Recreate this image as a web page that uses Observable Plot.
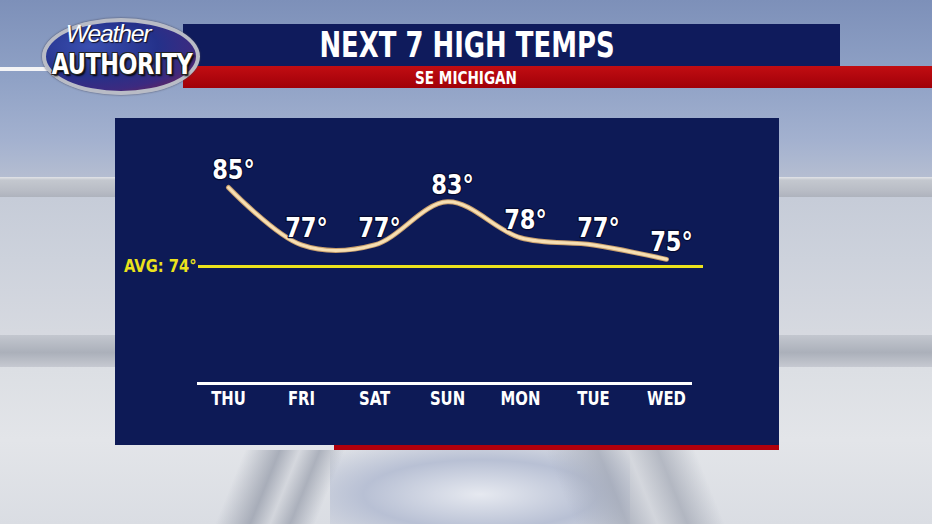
<!DOCTYPE html>
<html><head><meta charset="utf-8">
<script src="https://cdn.jsdelivr.net/npm/d3@7"></script>
<script src="https://cdn.jsdelivr.net/npm/@observablehq/plot@0.6"></script>
<style>
html,body{margin:0;padding:0;width:932px;height:524px;overflow:hidden}
body{position:relative;font-family:"DejaVu Sans Condensed","DejaVu Sans",sans-serif;font-stretch:condensed;font-weight:bold;
background:linear-gradient(180deg,#7d90b9 0px,#90a2c6 80px,#a3b1cf 140px,#b4bdd1 176px,#c6ccd8 198px,#cdd2dc 260px,#d6d9e0 332px,#dcdfe4 370px,#e3e5e9 440px,#dadde3 524px);}
.abs{position:absolute}
#band1{left:0;top:177px;width:932px;height:20px;background:linear-gradient(180deg,#e2e4e8 0px,#c4c8cf 3px,#b8bcc5 14px,#aeb3bd 20px)}
#band2{left:0;top:335px;width:932px;height:32px;background:linear-gradient(180deg,#c3c7cf 0px,#abb0ba 55%,#c6c9d1 100%)}
#bottomglow{left:330px;top:450px;width:300px;height:74px;background:radial-gradient(ellipse at 50% 60%,#e6e9f0 0%,#b8c0d4 55%,rgba(160,170,195,0.0) 100%)}
#titlebar{left:183px;top:24px;width:657px;height:42px;background:#0f1b5c}
#redbar{left:183px;top:66px;width:749px;height:22px;background:linear-gradient(180deg,#c10d12,#a00008)}
#leftline{left:0;top:67px;width:50px;height:4px;background:#f4f4f6}
#title{left:183px;width:560px;top:25px;text-align:center;color:#fff;font-size:36px;line-height:40px;margin-left:4px;transform:scaleX(0.8);transform-origin:50% 50%}
#sub{left:183px;width:560px;top:68px;text-align:center;color:#fff;font-size:18px;line-height:19px;margin-left:3px;transform:scaleX(0.84);transform-origin:50% 50%}
#logo{left:42px;top:18px;width:158px;height:77px;border-radius:50%;box-sizing:border-box;border:4px solid #b9bcc6;
background:radial-gradient(ellipse at 30% 35%,#3a4fb0 0%,#24318a 45%,#3c2a80 70%,#8a1e3c 100%);box-shadow:0 0 2px #445}
#w1{left:53px;top:20px;width:110px;text-align:center;color:#fff;font-style:italic;font-weight:normal;font-family:"Liberation Sans","Arial",sans-serif;font-size:24px;line-height:normal;letter-spacing:-1.2px;text-shadow:1px 1px 1px #112;transform:scaleX(1.03);transform-origin:50% 50%}
#w2{left:40px;top:47px;width:162px;text-align:center;color:#fff;font-size:29px;line-height:normal;letter-spacing:-0.5px;text-shadow:-1px -1px 0 #222,1px 1px 0 #222,1px -1px 0 #222,-1px 1px 0 #222,2px 2px 2px #000;transform:scaleX(0.855);transform-origin:50% 50%}
#panel{left:115px;top:118px;width:664px;height:327px;background:#0d1a56}
#panelred{left:334px;top:445px;width:445px;height:5px;background:#b0000c}
.post{height:74px;top:450px}
</style></head>
<body>
<div class="abs" id="band1"></div>
<div class="abs" id="band2"></div>
<div class="abs" id="bottomglow"></div>
<div class="abs post" style="left:230px;width:100px;transform:skewX(-22deg);background:linear-gradient(90deg,rgba(150,156,170,0),rgba(150,156,170,0.75) 35%,rgba(205,208,215,0.6) 55%,rgba(150,156,170,0.7) 75%,rgba(150,156,170,0))"></div>
<div class="abs post" style="left:560px;width:150px;transform:skewX(22deg);background:linear-gradient(90deg,rgba(150,156,170,0),rgba(160,166,180,0.7) 35%,rgba(205,208,215,0.6) 55%,rgba(150,156,170,0.6) 75%,rgba(150,156,170,0))"></div>
<div class="abs" id="titlebar"></div>
<div class="abs" id="redbar"></div>
<div class="abs" id="leftline"></div>
<div class="abs" id="title">NEXT 7 HIGH TEMPS</div>
<div class="abs" id="sub">SE MICHIGAN</div>
<div class="abs" id="logo"></div>
<div class="abs" id="w1">Weather</div>
<div class="abs" id="w2">AUTHORITY</div>
<div class="abs" id="panelred"></div>
<div class="abs" id="panel"></div>
<script>
const days = ["THU","FRI","SAT","SUN","MON","TUE","WED"];
const temps = [85, 77, 77, 83, 78, 77, 75];
const avgTemp = 74;
const data = days.map((day, i) => ({day, temp: temps[i]}));

const chart = Plot.plot({
  width: 664, height: 327,
  marginLeft: 83, marginRight: 89, marginTop: 0, marginBottom: 62,
  style: {background: "transparent", color: "white", fontFamily: '"DejaVu Sans Condensed","DejaVu Sans",sans-serif', fontStretch: "condensed", fontWeight: "bold", overflow: "visible"},
  x: {type: "point", domain: days, range: [111, 553], padding: 0, label: null},
  y: {domain: [74, 85], range: [148, 69], axis: null},
  marks: [
    Plot.frame({anchor: "bottom", stroke: "white", strokeWidth: 3}),
    Plot.axisX({tickSize: 0, tickPadding: 8, fontSize: 19, label: null, className: "days"}),
    Plot.ruleY([avgTemp], {stroke: "#ebe21c", strokeWidth: 3, insetRight: -13}),
    Plot.text([avgTemp], {y: d => d, frameAnchor: "left", text: d => `AVG: ${d}°`, textAnchor: "end", dx: -2, fill: "#ebe21c", fontSize: 17, className: "avg"}),
    Plot.line(data, {x: "day", y: "temp", curve: "catmull-rom", stroke: "#c99f6b", strokeWidth: 5}),
    Plot.line(data, {x: "day", y: "temp", curve: "catmull-rom", stroke: "#f7dfb3", strokeWidth: 3}),
    Plot.text(data, {x: "day", y: "temp", text: d => `${d.temp}°`, dy: -17, dx: 5, fontSize: 27, fill: "white", stroke: "#050b30", strokeWidth: 2.5, paintOrder: "stroke", className: "temps"})
  ]
});
// condense glyphs horizontally around each text's anchor
const squeeze = (sel, k) => chart.querySelectorAll(sel).forEach(t => {
  const tr = t.getAttribute("transform") || "";
  t.setAttribute("transform", tr + ` scale(${k},1)`);
});
squeeze(".days text", 0.87);
squeeze(".avg text", 0.96);
squeeze(".temps text", 0.93);
chart.style.position = "absolute";
chart.style.left = "115px";
chart.style.top = "118px";
document.body.appendChild(chart);
</script>
</body></html>
